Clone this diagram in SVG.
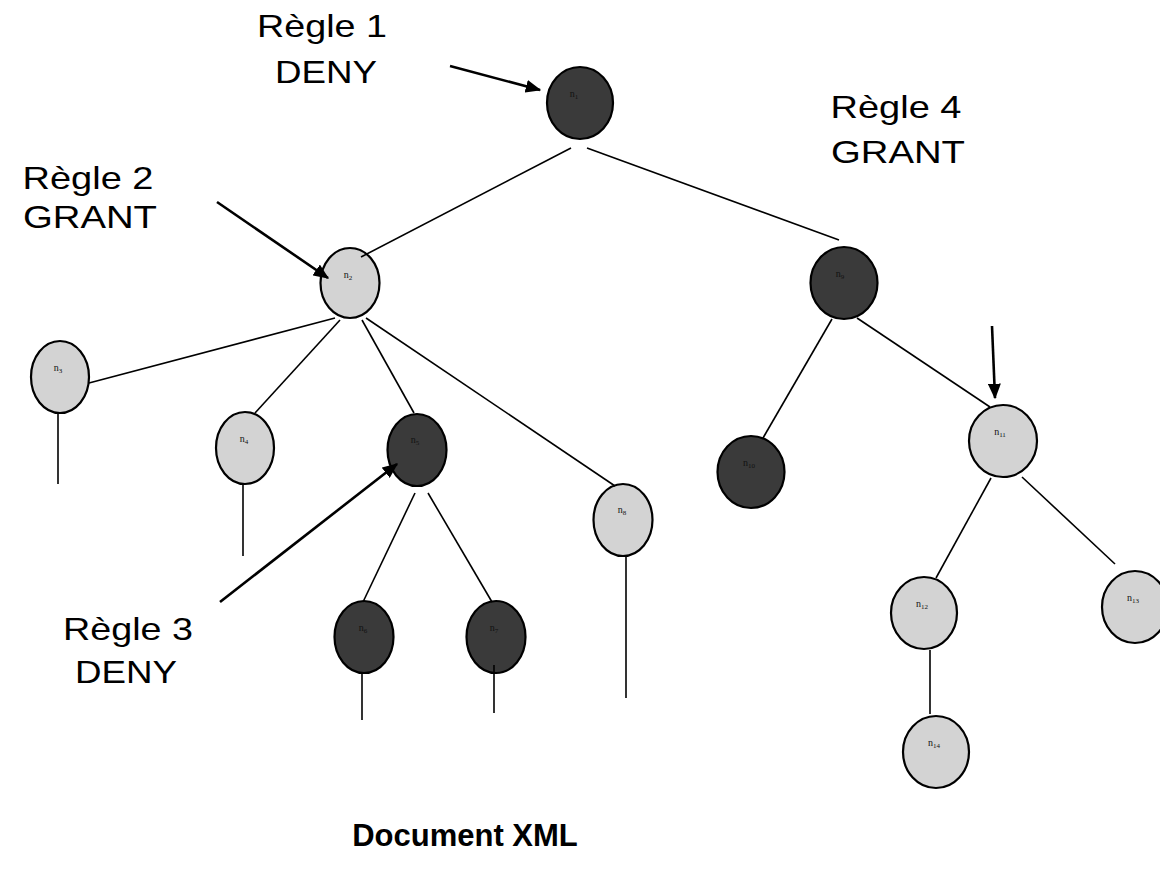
<svg xmlns="http://www.w3.org/2000/svg" width="1160" height="871" viewBox="0 0 1160 871">
  <style>
    .dark { fill: #3a3a3a; stroke: #000; stroke-width: 2.2; }
    .light { fill: #d3d3d3; stroke: #000; stroke-width: 2.2; }
    .lbl { font-family: "Liberation Serif", "Times New Roman", serif; font-size: 10px; fill: #111; text-anchor: middle; }
    .sub { font-size: 7px; }
    .edge { stroke: #000; stroke-width: 1.6; fill: none; }
    .ptr { stroke: #000; stroke-width: 2.6; fill: none; marker-end: url(#head); }
    .rule { font-family: "Liberation Sans", Arial, sans-serif; font-size: 32px; fill: #000; text-anchor: middle; }
    .title { font-family: "Liberation Sans", Arial, sans-serif; font-size: 31px; font-weight: bold; fill: #000; text-anchor: middle; }
  </style>
  <defs>
    <marker id="head" markerWidth="6" markerHeight="5" refX="5.5" refY="2.5" orient="auto" markerUnits="strokeWidth">
      <path d="M0,0 L6,2.5 L0,5 Z" fill="#000"/>
    </marker>
  </defs>
  <rect width="1160" height="871" fill="#fff"/>

  <!-- tree nodes -->
  <g id="n1"><ellipse class="dark" cx="580" cy="103" rx="33" ry="36"/><text class="lbl" x="574" y="97">n<tspan class="sub" dy="2">1</tspan></text></g>
  <g id="n2"><ellipse class="light" cx="350" cy="283" rx="29.5" ry="35"/><text class="lbl" x="348" y="278">n<tspan class="sub" dy="2">2</tspan></text></g>
  <g id="n3"><ellipse class="light" cx="60" cy="377" rx="29" ry="36"/><text class="lbl" x="58" y="371">n<tspan class="sub" dy="2">3</tspan></text></g>
  <g id="n4"><ellipse class="light" cx="245" cy="448" rx="29" ry="36"/><text class="lbl" x="244" y="442">n<tspan class="sub" dy="2">4</tspan></text></g>
  <g id="n5"><ellipse class="dark" cx="417" cy="450" rx="29.5" ry="36"/><text class="lbl" x="415" y="443">n<tspan class="sub" dy="2">5</tspan></text></g>
  <g id="n6"><ellipse class="dark" cx="364" cy="637" rx="29.5" ry="36"/><text class="lbl" x="363" y="631">n<tspan class="sub" dy="2">6</tspan></text></g>
  <g id="n7"><ellipse class="dark" cx="496" cy="637" rx="29.5" ry="36"/><text class="lbl" x="494" y="631">n<tspan class="sub" dy="2">7</tspan></text></g>
  <g id="n8"><ellipse class="light" cx="623" cy="520" rx="29.5" ry="36"/><text class="lbl" x="622" y="513">n<tspan class="sub" dy="2">8</tspan></text></g>
  <g id="n9"><ellipse class="dark" cx="844" cy="283" rx="33.5" ry="36"/><text class="lbl" x="840" y="277">n<tspan class="sub" dy="2">9</tspan></text></g>
  <g id="n10"><ellipse class="dark" cx="751" cy="472" rx="33.5" ry="36"/><text class="lbl" x="749" y="466">n<tspan class="sub" dy="2">10</tspan></text></g>
  <g id="n11"><ellipse class="light" cx="1003" cy="441" rx="34" ry="36"/><text class="lbl" x="1000" y="435">n<tspan class="sub" dy="2">11</tspan></text></g>
  <g id="n12"><ellipse class="light" cx="924" cy="613" rx="33" ry="36"/><text class="lbl" x="922" y="607">n<tspan class="sub" dy="2">12</tspan></text></g>
  <g id="n13"><ellipse class="light" cx="1135" cy="607" rx="33" ry="36"/><text class="lbl" x="1133" y="601">n<tspan class="sub" dy="2">13</tspan></text></g>
  <g id="n14"><ellipse class="light" cx="936" cy="752" rx="33" ry="36"/><text class="lbl" x="934" y="746">n<tspan class="sub" dy="2">14</tspan></text></g>

  <!-- parent/child links and open stubs -->
  <g id="connectors">
    <line class="edge" x1="571" y1="148" x2="361" y2="257"/>
    <line class="edge" x1="587" y1="148" x2="839" y2="240"/>
    <line class="edge" x1="335" y1="318" x2="89" y2="383"/>
    <line class="edge" x1="340" y1="320" x2="255" y2="413"/>
    <line class="edge" x1="362" y1="320" x2="414" y2="413"/>
    <line class="edge" x1="366" y1="318" x2="615" y2="486"/>
    <line class="edge" x1="415" y1="493" x2="363" y2="602"/>
    <line class="edge" x1="428" y1="493" x2="492" y2="602"/>
    <line class="edge" x1="832" y1="319" x2="763" y2="438"/>
    <line class="edge" x1="857" y1="318" x2="990" y2="407"/>
    <line class="edge" x1="991" y1="478" x2="936" y2="578"/>
    <line class="edge" x1="1022" y1="477" x2="1115" y2="564"/>
    <line class="edge" x1="930" y1="650" x2="930" y2="714"/>
    <line class="edge" x1="58" y1="413" x2="58" y2="484"/>
    <line class="edge" x1="243" y1="484" x2="243" y2="556"/>
    <line class="edge" x1="362" y1="673" x2="362" y2="720"/>
    <line class="edge" x1="494" y1="665" x2="494" y2="713"/>
    <line class="edge" x1="626" y1="556" x2="626" y2="698"/>

    <!-- rule pointers -->
    <line class="ptr" x1="450" y1="66" x2="540" y2="90"/>
    <line class="ptr" x1="217" y1="202" x2="328" y2="278"/>
    <line class="ptr" x1="220" y1="602" x2="397" y2="464"/>
    <line class="ptr" x1="992" y1="326" x2="995" y2="398"/>
  </g>

  <!-- rule captions -->
  <g id="rules">
    <text class="rule" x="322" y="37" textLength="130" lengthAdjust="spacingAndGlyphs">Règle 1</text>
    <text class="rule" x="326" y="83" textLength="102" lengthAdjust="spacingAndGlyphs">DENY</text>
    <text class="rule" x="88" y="189" textLength="131" lengthAdjust="spacingAndGlyphs">Règle 2</text>
    <text class="rule" x="90" y="228" textLength="134" lengthAdjust="spacingAndGlyphs">GRANT</text>
    <text class="rule" x="128" y="640" textLength="130" lengthAdjust="spacingAndGlyphs">Règle 3</text>
    <text class="rule" x="126" y="683" textLength="102" lengthAdjust="spacingAndGlyphs">DENY</text>
    <text class="rule" x="896" y="118" textLength="131" lengthAdjust="spacingAndGlyphs">Règle 4</text>
    <text class="rule" x="898" y="163" textLength="134" lengthAdjust="spacingAndGlyphs">GRANT</text>
  </g>

  <text class="title" x="465" y="846">Document XML</text>
</svg>
